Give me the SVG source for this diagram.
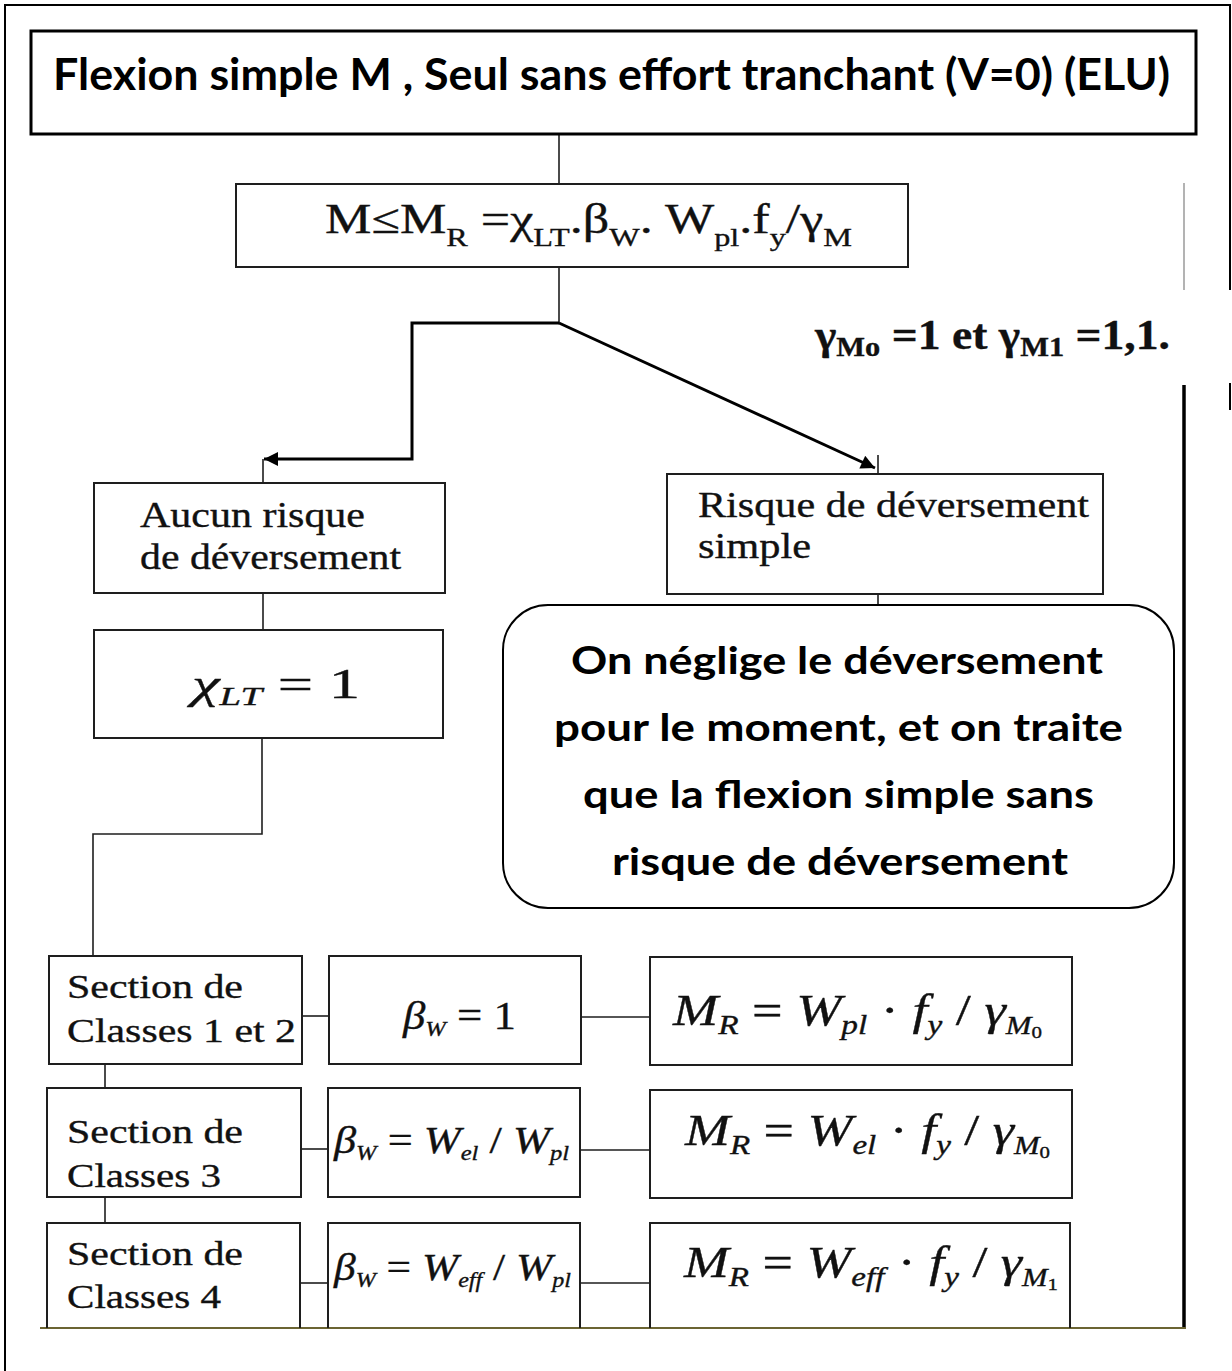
<svg xmlns="http://www.w3.org/2000/svg" width="1232" height="1371" viewBox="0 0 1232 1371">
  <style>
    .box { fill: #ffffff; stroke: #1e1e1e; stroke-width: 2; }
    .open { fill: none; stroke: #1e1e1e; stroke-width: 2; }
    .conn { fill: none; stroke: #1e1e1e; stroke-width: 1.6; }
    .thick { fill: none; stroke: #000000; stroke-width: 3; }
    .serif { font-family: "Liberation Serif", "Times New Roman", serif; fill: #111111; stroke: #111111; stroke-width: 0.35; }
    .math { font-family: "Liberation Serif", "Times New Roman", serif; font-style: italic; fill: #111111; stroke: #111111; stroke-width: 0.35; }
    .up { font-style: normal; }
    .bold { font-family: Lato, "Open Sans", "Liberation Sans", sans-serif; font-weight: 700; fill: #000000; }
  </style>
  <defs>
    <marker id="arrow" viewBox="0 0 10 10" refX="10" refY="5" markerWidth="18" markerHeight="14" markerUnits="userSpaceOnUse" orient="auto">
      <path d="M0,0 L10,5 L0,10 Z" fill="#000000"/>
    </marker>
  </defs>

  <rect width="1232" height="1371" fill="#ffffff"/>

  <!-- outer frame, broken where the safety factor note sits -->
  <g id="frame" fill="none" stroke="#000000">
    <path d="M1230,290 V5 H5 V1371" stroke-width="2"/>
    <path d="M1230,383 V410" stroke-width="2"/>
    <path d="M1184,183 V290" stroke="#9a9a9a" stroke-width="1.5"/>
    <path d="M1184,385 V1329" stroke-width="3.5"/>
    <path d="M40,1328 H1186" stroke="#6b6433" stroke-width="2"/>
  </g>

  <!-- connectors -->
  <g id="connectors">
    <path class="conn" d="M559,134 V184"/>
    <path class="conn" d="M559,267 V323"/>
    <path class="thick" d="M559,323 H412 V459 H264" marker-end="url(#arrow)"/>
    <path class="conn" d="M263,459 V483"/>
    <path class="thick" d="M559,323 L875,468" marker-end="url(#arrow)"/>
    <path class="conn" d="M878,455 V474"/>
    <path class="conn" d="M263,593 V630"/>
    <path class="conn" d="M262,738 V834 H93 V956"/>
    <path class="conn" d="M302,1016 H329"/>
    <path class="conn" d="M581,1017 H650"/>
    <path class="conn" d="M105,1064 V1088"/>
    <path class="conn" d="M301,1149 H328"/>
    <path class="conn" d="M580,1150 H650"/>
    <path class="conn" d="M105,1197 V1223"/>
    <path class="conn" d="M300,1283 H328"/>
    <path class="conn" d="M580,1283 H650"/>
    <path class="conn" d="M878,594 V605"/>
  </g>

  <g id="title">
    <rect x="31" y="31" width="1165" height="103" fill="#ffffff" stroke="#000000" stroke-width="3"/>
    <text class="bold" x="53" y="90" font-size="44" textLength="1117" lengthAdjust="spacingAndGlyphs">Flexion simple M , Seul sans effort tranchant (V=0) (ELU)</text>
  </g>

  <g id="moment-resistant">
    <rect class="box" x="236" y="184" width="672" height="83"/>
    <text class="serif" x="325" y="233" font-size="42" textLength="527" lengthAdjust="spacingAndGlyphs">M≤M<tspan font-size="26" dy="13">R</tspan><tspan dy="-13"> =χ</tspan><tspan font-size="26" dy="13">LT</tspan><tspan dy="-13">.β</tspan><tspan font-size="26" dy="13">W</tspan><tspan dy="-13">. W</tspan><tspan font-size="26" dy="13">pl</tspan><tspan dy="-13">.f</tspan><tspan font-size="26" dy="13">y</tspan><tspan dy="-13">/γ</tspan><tspan font-size="26" dy="13">M</tspan></text>
  </g>

  <g id="gamma-values">
    <text class="serif" x="815" y="349" font-size="42" font-weight="700" textLength="355" lengthAdjust="spacingAndGlyphs">γ<tspan font-size="28" dy="7">Mo</tspan><tspan dy="-7"> =1 et γ</tspan><tspan font-size="28" dy="7">M1</tspan><tspan dy="-7"> =1,1.</tspan></text>
  </g>

  <g id="no-risk">
    <rect class="box" x="94" y="483" width="351" height="110"/>
    <text class="serif" x="140" y="527" font-size="35" textLength="225" lengthAdjust="spacingAndGlyphs">Aucun risque</text>
    <text class="serif" x="140" y="569" font-size="35" textLength="261" lengthAdjust="spacingAndGlyphs">de déversement</text>
  </g>

  <g id="risk">
    <rect class="box" x="667" y="474" width="436" height="120"/>
    <text class="serif" x="698" y="517" font-size="35" textLength="391" lengthAdjust="spacingAndGlyphs">Risque de déversement</text>
    <text class="serif" x="698" y="558" font-size="35" textLength="113" lengthAdjust="spacingAndGlyphs">simple</text>
  </g>

  <g id="chi-lt">
    <rect class="box" x="94" y="630" width="349" height="108"/>
    <text class="math" x="192" y="698" font-size="42" textLength="168" lengthAdjust="spacingAndGlyphs">χ<tspan font-size="26" dy="7">LT</tspan><tspan class="up" dy="-7">  = 1</tspan></text>
  </g>

  <g id="note">
    <rect x="503" y="605" width="671" height="303" rx="45" ry="45" fill="#ffffff" stroke="#000000" stroke-width="2"/>
    <text class="bold" x="571" y="674" font-size="38" textLength="532" lengthAdjust="spacingAndGlyphs">On néglige le déversement</text>
    <text class="bold" x="554" y="741" font-size="38" textLength="569" lengthAdjust="spacingAndGlyphs">pour le moment, et on traite</text>
    <text class="bold" x="583" y="808" font-size="38" textLength="511" lengthAdjust="spacingAndGlyphs">que la flexion simple sans</text>
    <text class="bold" x="612" y="875" font-size="38" textLength="456" lengthAdjust="spacingAndGlyphs">risque de déversement</text>
  </g>

  <!-- class 1 and 2 row -->
  <g id="class12">
    <rect class="box" x="49" y="956" width="253" height="108"/>
    <text class="serif" x="67" y="998" font-size="34" textLength="176" lengthAdjust="spacingAndGlyphs">Section de</text>
    <text class="serif" x="67" y="1042" font-size="34" textLength="229" lengthAdjust="spacingAndGlyphs">Classes 1 et 2</text>
  </g>
  <g id="beta12">
    <rect class="box" x="329" y="956" width="252" height="108"/>
    <text class="math" x="403" y="1029" font-size="40" textLength="113" lengthAdjust="spacingAndGlyphs">β<tspan font-size="22" dy="7">W</tspan><tspan class="up" dy="-7"> = 1</tspan></text>
  </g>
  <g id="mr12">
    <rect class="box" x="650" y="957" width="422" height="108"/>
    <text class="math" x="673" y="1025" font-size="44" textLength="369" lengthAdjust="spacingAndGlyphs">M<tspan font-size="27" dy="9">R</tspan><tspan class="up" dy="-9"> = </tspan>W<tspan font-size="27" dy="9">pl</tspan><tspan class="up" dy="-9"> · </tspan>f<tspan font-size="27" dy="9">y</tspan><tspan class="up" dy="-9"> / </tspan>γ<tspan font-size="25" dy="9">M</tspan><tspan class="up" font-size="17" dy="4">0</tspan></text>
  </g>

  <!-- class 3 row -->
  <g id="class3">
    <rect class="box" x="47" y="1088" width="254" height="109"/>
    <text class="serif" x="67" y="1143" font-size="34" textLength="176" lengthAdjust="spacingAndGlyphs">Section de</text>
    <text class="serif" x="67" y="1187" font-size="34" textLength="154" lengthAdjust="spacingAndGlyphs">Classes 3</text>
  </g>
  <g id="beta3">
    <rect class="box" x="328" y="1088" width="252" height="109"/>
    <text class="math" x="334" y="1153" font-size="38" textLength="235" lengthAdjust="spacingAndGlyphs">β<tspan font-size="21" dy="7">W</tspan><tspan class="up" dy="-7"> = </tspan>W<tspan font-size="21" dy="7">el</tspan><tspan class="up" dy="-7"> / </tspan>W<tspan font-size="21" dy="7">pl</tspan></text>
  </g>
  <g id="mr3">
    <rect class="box" x="650" y="1090" width="422" height="108"/>
    <text class="math" x="685" y="1145" font-size="44" textLength="365" lengthAdjust="spacingAndGlyphs">M<tspan font-size="27" dy="9">R</tspan><tspan class="up" dy="-9"> = </tspan>W<tspan font-size="27" dy="9">el</tspan><tspan class="up" dy="-9"> · </tspan>f<tspan font-size="27" dy="9">y</tspan><tspan class="up" dy="-9"> / </tspan>γ<tspan font-size="25" dy="9">M</tspan><tspan class="up" font-size="17" dy="4">0</tspan></text>
  </g>

  <!-- class 4 row, cut off by the bottom rule -->
  <g id="class4">
    <path class="open" d="M47,1328 V1223 H300 V1328"/>
    <text class="serif" x="67" y="1265" font-size="34" textLength="176" lengthAdjust="spacingAndGlyphs">Section de</text>
    <text class="serif" x="67" y="1308" font-size="34" textLength="154" lengthAdjust="spacingAndGlyphs">Classes 4</text>
  </g>
  <g id="beta4">
    <path class="open" d="M328,1328 V1223 H580 V1328"/>
    <text class="math" x="334" y="1280" font-size="38" textLength="237" lengthAdjust="spacingAndGlyphs">β<tspan font-size="21" dy="7">W</tspan><tspan class="up" dy="-7"> = </tspan>W<tspan font-size="21" dy="7">eff</tspan><tspan class="up" dy="-7"> / </tspan>W<tspan font-size="21" dy="7">pl</tspan></text>
  </g>
  <g id="mr4">
    <path class="open" d="M650,1328 V1223 H1070 V1328"/>
    <text class="math" x="684" y="1277" font-size="44" textLength="374" lengthAdjust="spacingAndGlyphs">M<tspan font-size="27" dy="9">R</tspan><tspan class="up" dy="-9"> = </tspan>W<tspan font-size="27" dy="9">eff</tspan><tspan class="up" dy="-9"> · </tspan>f<tspan font-size="27" dy="9">y</tspan><tspan class="up" dy="-9"> / </tspan>γ<tspan font-size="25" dy="9">M</tspan><tspan class="up" font-size="17" dy="4">1</tspan></text>
  </g>
</svg>
